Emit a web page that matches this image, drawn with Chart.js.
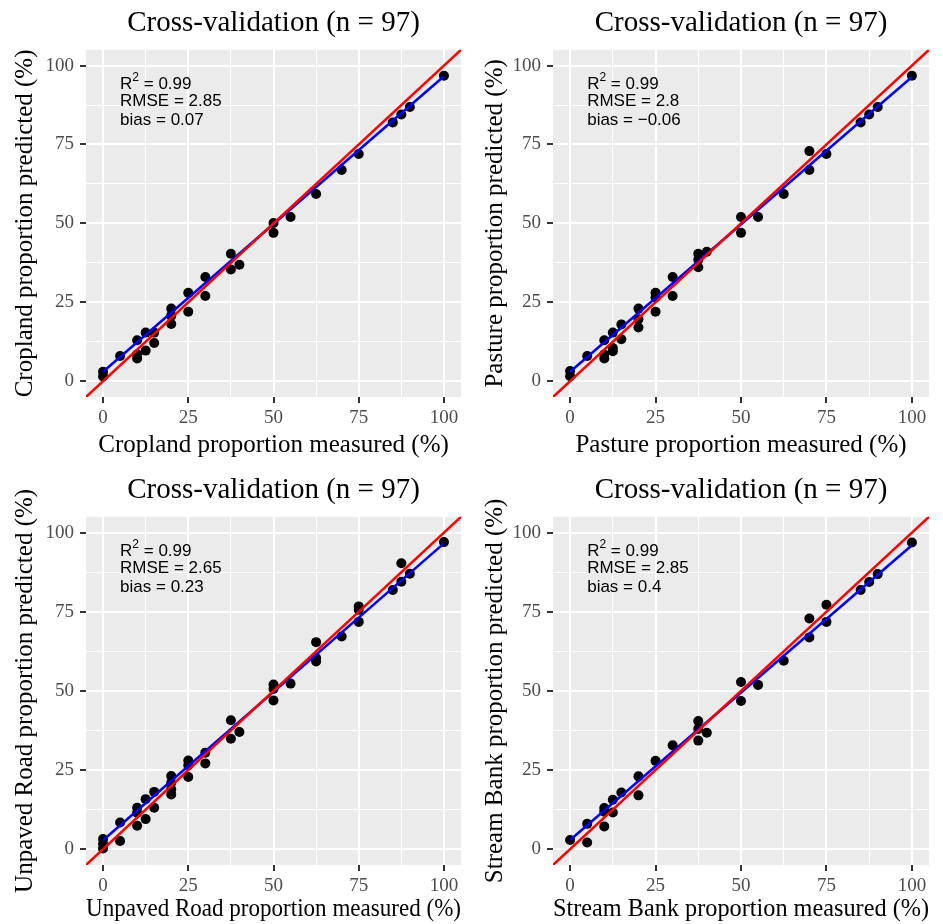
<!DOCTYPE html>
<html>
<head>
<meta charset="utf-8">
<script src="https://cdn.jsdelivr.net/npm/chart.js@4.4.1/dist/chart.umd.min.js"></script>
<style>
html, body { margin: 0; padding: 0; background: #fff; }
body { width: 943px; height: 924px; position: relative; overflow: hidden; }
.panel { position: absolute; }
</style>
</head>
<body>
<div class="panel" style="left:0;top:0;width:470px;height:462px"><canvas id="c1"></canvas></div>
<div class="panel" style="left:470px;top:0;width:473px;height:462px"><canvas id="c2"></canvas></div>
<div class="panel" style="left:0;top:467px;width:470px;height:457px"><canvas id="c3"></canvas></div>
<div class="panel" style="left:470px;top:467px;width:473px;height:457px"><canvas id="c4"></canvas></div>
<script>
// measured (x) and predicted (y) values
const cropX = [0, 0, 5, 10, 10, 10, 12.5, 12.5, 15, 15, 20, 20, 20, 25, 25, 30, 30, 37.5, 37.5, 40, 50, 50, 55, 62.5, 70, 75, 85, 87.5, 90, 100];
const cropY = [3, 1.5, 8, 13, 8.5, 7.2, 15.4, 9.7, 15.4, 12.1, 23, 20.7, 18.1, 28, 22, 33, 27, 40.4, 35.4, 36.9, 50.1, 47, 52, 59.3, 66.9, 72, 82, 84.5, 86.9, 96.8];

const pastX = [0, 0, 5, 10, 10, 10, 12.5, 12.5, 12.5, 15, 15, 20, 20, 20, 25, 25, 25, 30, 30, 37.5, 37.5, 37.5, 40, 50, 50, 55, 62.5, 70, 70, 75, 85, 87.5, 90, 100];
const pastY = [3.2, 1.6, 8, 13, 8.5, 7.2, 15.4, 10.5, 9.5, 18, 13.3, 23, 19.6, 17, 28, 26.5, 22, 33, 27, 40.4, 38.5, 36.1, 41, 52, 47, 52, 59.3, 72.9, 66.9, 72, 82, 84.5, 86.9, 96.8];

const roadX = [0, 0, 0, 5, 5, 10, 10, 10, 12.5, 12.5, 15, 15, 20, 20, 20, 20, 25, 25, 25, 30, 30, 37.5, 37.5, 40, 50, 50, 50, 55, 62.5, 62.5, 62.5, 70, 75, 75, 75, 85, 87.5, 87.5, 90, 100];
const roadY = [3.2, 1.6, 0.2, 8.4, 2.6, 13.1, 11.5, 7.4, 15.8, 9.5, 18.1, 13.1, 23.1, 21, 18.9, 17.3, 28, 26.5, 22.8, 30.5, 27.1, 40.7, 34.9, 37, 52, 50.6, 47, 52.3, 65.4, 60.4, 59.3, 67.2, 76.7, 75.6, 71.8, 81.9, 90.3, 84.5, 87, 97];

const bankX = [0, 5, 5, 10, 10, 10, 12.5, 12.5, 15, 20, 20, 25, 30, 37.5, 37.5, 37.5, 40, 50, 50, 55, 62.5, 70, 70, 75, 75, 85, 87.5, 90, 100];
const bankY = [2.9, 8, 2.1, 13, 11.8, 7.2, 15.6, 11.6, 17.9, 23, 17, 27.9, 32.8, 40.5, 38, 34.3, 36.8, 52.8, 46.8, 51.9, 59.5, 72.9, 66.9, 77.2, 71.8, 81.9, 84.4, 86.9, 96.9];

// fitted line end values (at measured = 0 and 100)
const fitX = [0, 100];
const cropFit = [3.0, 96.6];
const pastFit = [3.0, 96.4];
const roadFit = [2.8, 96.6];
const bankFit = [2.9, 96.0];

const oneToOne = [-10, 110];
const gridTicks = [0, 12.5, 25, 37.5, 50, 62.5, 75, 87.5, 100];

const names = ['Cropland', 'Pasture', 'Unpaved Road', 'Stream Bank'];
const r2Vals = ['0.99', '0.99', '0.99', '0.99'];
const rmseVals = ['2.85', '2.8', '2.65', '2.85'];
const biasVals = ['0.07', '\u22120.06', '0.23', '0.4'];

const SERIF = "'Liberation Serif', 'Times New Roman', serif";
const SANS = "'Liberation Sans', Arial, sans-serif";

const toPts = (xs, ys) => xs.map((x, i) => ({ x: x, y: ys[i] }));

const panelBg = {
    id: 'panelBg',
    beforeDraw(chart) {
        const { ctx, chartArea: a } = chart;
        ctx.save();
        ctx.fillStyle = '#EBEBEB';
        ctx.fillRect(a.left, a.top, a.right - a.left, a.bottom - a.top);
        ctx.restore();
    }
};

const statsText = {
    id: 'statsText',
    afterDraw(chart, args, opts) {
        if (!opts.lines) return;
        const { ctx, scales: { x, y } } = chart;
        ctx.save();
        ctx.fillStyle = '#000';
        ctx.textBaseline = 'middle';
        opts.lines.forEach((line, i) => {
            let cx = x.getPixelForValue(opts.x);
            const cy = y.getPixelForValue(opts.y[i]);
            line.forEach(seg => {
                ctx.font = (seg.sup ? 12 : 17) + 'px ' + SANS;
                ctx.fillText(seg.t, cx, seg.sup ? cy - 7 : cy);
                cx += ctx.measureText(seg.t).width;
            });
        });
        ctx.restore();
    }
};

function axis(title, horizontal, size, titlePad, labelPad) {
    return {
        type: 'linear', min: -5, max: 105,
        afterBuildTicks: s => { s.ticks = gridTicks.map(v => ({ value: v })); },
        afterFit: s => { if (horizontal) s.height = size; else s.width = size; },
        border: { display: false },
        grid: {
            color: '#FFFFFF',
            lineWidth: c => (c.tick && c.tick.value % 25 === 0) ? 2 : 1,
            tickColor: c => (c.tick && c.tick.value % 25 === 0) ? '#333333' : 'rgba(0,0,0,0)',
            tickWidth: 2,
            tickLength: 6
        },
        ticks: {
            autoSkip: false, maxRotation: 0, padding: labelPad,
            color: '#4D4D4D',
            font: { family: SERIF, size: 19 },
            callback: v => v % 25 === 0 ? v : ''
        },
        title: {
            display: true, text: title, color: '#000',
            font: { family: SERIF, size: 25 },
            padding: titlePad
        }
    };
}

function makePanel(id, i, xs, ys, fit, dims) {
    new Chart(document.getElementById(id), {
        type: 'scatter',
        data: {
            datasets: [
                {
                    data: toPts(oneToOne, oneToOne), showLine: true,
                    borderColor: '#FF0000', borderWidth: 2.5,
                    pointRadius: 0, pointHoverRadius: 0, clip: 0, order: 1
                },
                {
                    data: toPts(fitX, fit), showLine: true,
                    borderColor: '#0000FF', borderWidth: 2.5,
                    pointRadius: 0, pointHoverRadius: 0, clip: 0, order: 2
                },
                {
                    data: toPts(xs, ys),
                    backgroundColor: '#000000', borderWidth: 0,
                    pointRadius: 5, order: 3
                }
            ]
        },
        options: {
            responsive: true, maintainAspectRatio: false, animation: false,
            layout: { padding: { right: dims.padR, top: 0, bottom: 0, left: 0 } },
            plugins: {
                legend: { display: false }, tooltip: { enabled: false },
                title: {
                    display: true, text: 'Cross-validation (n = 97)', fullSize: false,
                    color: '#000', font: { family: SERIF, size: 29, weight: 'normal' },
                    padding: { top: 6, bottom: 9 }
                },
                statsText: {
                    x: 5, y: [94, 88.6, 82.7],
                    lines: [
                        [{ t: 'R' }, { t: '2', sup: true }, { t: ' = ' + r2Vals[i] }],
                        [{ t: 'RMSE = ' + rmseVals[i] }],
                        [{ t: 'bias = ' + biasVals[i] }]
                    ]
                }
            },
            scales: {
                x: axis(names[i] + ' proportion measured (%)', true, dims.xH, { top: 0, bottom: dims.xTitlePad }, 4),
                y: axis(names[i] + ' proportion predicted (%)', false, dims.yW, { top: 10, bottom: 0 }, 6)
            }
        },
        plugins: [panelBg, statsText]
    });
}

makePanel('c1', 0, cropX, cropY, cropFit, { padR: 9, xH: 65, yW: 86, xTitlePad: 2 });
makePanel('c2', 1, pastX, pastY, pastFit, { padR: 14, xH: 65, yW: 83, xTitlePad: 2 });
makePanel('c3', 2, roadX, roadY, roadFit, { padR: 9, xH: 59, yW: 86, xTitlePad: 0 });
makePanel('c4', 3, bankX, bankY, bankFit, { padR: 14, xH: 59, yW: 83, xTitlePad: 0 });
</script>
</body>
</html>
